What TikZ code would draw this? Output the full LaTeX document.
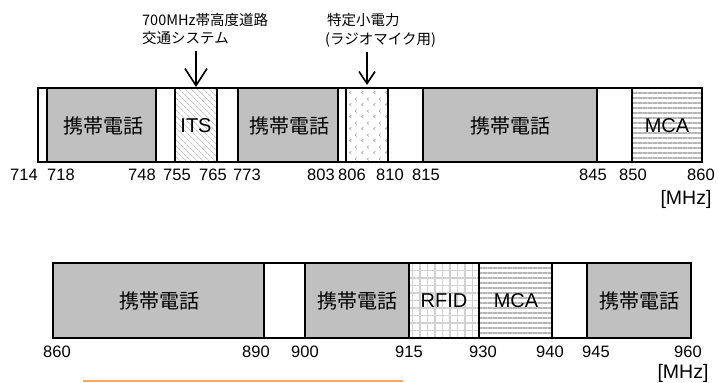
\documentclass[tikz,border=0pt]{standalone}
\usepackage{fontspec}
\setmainfont{Liberation Sans}
\newfontfamily\jp{Noto Sans CJK JP}
\usetikzlibrary{patterns.meta,arrows.meta}
\definecolor{mobgray}{HTML}{C0C0C0}
\definecolor{patgray}{HTML}{A8A8A8}
\definecolor{linegray}{HTML}{B4B4B4}
\definecolor{orangeline}{HTML}{FFA860}
\pgfdeclarepattern{
  name=chevs,
  type=uncolored,
  bottom left={\pgfpoint{0pt}{0pt}},
  top right={\pgfpoint{12pt}{12pt}},
  tile size={\pgfpoint{12pt}{12pt}},
  code={
    \pgfsetlinewidth{0.6pt}
    \pgfpathmoveto{\pgfpoint{3.5pt}{4pt}}
    \pgfpathlineto{\pgfpoint{1.5pt}{2.5pt}}
    \pgfpathlineto{\pgfpoint{3.5pt}{1pt}}
    \pgfpathmoveto{\pgfpoint{9.5pt}{10pt}}
    \pgfpathlineto{\pgfpoint{7.5pt}{8.5pt}}
    \pgfpathlineto{\pgfpoint{9.5pt}{7pt}}
    \pgfusepath{stroke}
  }
}
\tikzset{
  band/.style={draw=black, line width=1.4pt},
  mob/.style={band, fill=mobgray},
  itsfill/.style={band, pattern={Lines[angle=-45,distance=4pt,line width=0.6pt]}, pattern color=patgray},
  mcafill/.style={band, pattern={Lines[angle=0,distance=5pt,line width=2.2pt]}, pattern color=linegray},
  rfidfill/.style={band, pattern={Hatch[angle=0,distance=7.5pt,line width=1.6pt]}, pattern color=black!18},
  micfill/.style={band, pattern=chevs, pattern color=patgray},
  lbl/.style={font=\fontsize{20}{22}\selectfont, inner sep=0pt},
  jlbl/.style={font=\jp\fontsize{20}{22}\selectfont, inner sep=0pt},
  num/.style={font=\fontsize{16.5}{18}\selectfont, inner sep=0pt},
  unit/.style={font=\fontsize{19.5}{21}\selectfont, inner sep=0pt},
  note/.style={font=\jp\fontsize{14.5}{16}\selectfont, inner sep=0pt, anchor=west},
  arr/.style={line width=1.6pt},
}
\begin{document}
\begin{tikzpicture}[x=1pt,y=-1pt]
\useasboundingbox[fill=white] (0,0) rectangle (718,383);
% ---------- top band ----------
\draw[band] (38,88) rectangle (47,162);
\draw[mob] (47,88) rectangle (156,162);
\draw[band] (156,88) rectangle (175,162);
\draw[itsfill] (175,88) rectangle (217,162);
\draw[band] (217,88) rectangle (238,162);
\draw[mob] (238,88) rectangle (338,162);
\draw[band] (338,88) rectangle (346,162);
\draw[micfill] (346,88) rectangle (388,162);
\draw[band] (388,88) rectangle (423,162);
\draw[mob] (423,88) rectangle (597,162);
\draw[band] (597,88) rectangle (632,162);
\draw[mcafill] (632,88) rectangle (702,162);
\draw[band] (38,88) rectangle (702,162);

\node[jlbl] (t1) at (103,126) {携帯電話};
\node[lbl] (t2) at (196,126) {ITS};
\node[jlbl] (t3) at (289,126) {携帯電話};
\node[jlbl] (t4) at (510,126) {携帯電話};
\node[lbl] (t5) at (667,126) {MCA};

\node[num] (n714) at (24,175) {714};
\node[num] (n718) at (61,175) {718};
\node[num] (n748) at (142,175) {748};
\node[num] (n755) at (177,175) {755};
\node[num] (n765) at (213,175) {765};
\node[num] (n773) at (247,175) {773};
\node[num] (n803) at (321,175) {803};
\node[num] (n806) at (352,175) {806};
\node[num] (n810) at (390,175) {810};
\node[num] (n815) at (426,175) {815};
\node[num] (n845) at (593,175) {845};
\node[num] (n850) at (633,175) {850};
\node[num] (n860a) at (701,175) {860};
\node[unit] (u1) at (686,199) {[MHz]};

% annotations
\node[note] (a1a) at (142,20) {700MHz帯高度道路};
\node[note] (a1b) at (142,38) {交通システム};
\coordinate (p1s) at (196,51);
\coordinate (p1e) at (196,87);
\draw[arr, -{Straight Barb[length=17pt,width=22pt,line width=1.6pt]}] (p1s) -- (p1e);

\node[note] (a2a) at (327,20) {特定小電力};
\node[note] (a2b) at (325,40) {(ラジオマイク用)};
\coordinate (p2s) at (367,52);
\coordinate (p2e) at (367,85);
\draw[arr, -{Straight Barb[length=12pt,width=16pt,line width=1.6pt]}] (p2s) -- (p2e);

% ---------- bottom band ----------
\draw[mob] (53,263) rectangle (264,338);
\draw[band] (264,263) rectangle (305,338);
\draw[mob] (305,263) rectangle (409,338);
\draw[rfidfill] (409,263) rectangle (479,338);
\draw[mcafill] (479,263) rectangle (552,338);
\draw[band] (552,263) rectangle (587,338);
\draw[mob] (587,263) rectangle (691,338);
\draw[band] (53,263) rectangle (691,338);

\node[jlbl] (b1) at (159,301) {携帯電話};
\node[jlbl] (b2) at (357,301) {携帯電話};
\node[lbl] (b3) at (444,301) {RFID};
\node[lbl] (b4) at (516,301) {MCA};
\node[jlbl] (b5) at (639,301) {携帯電話};

\node[num] (m860) at (57,352) {860};
\node[num] (m890) at (256,352) {890};
\node[num] (m900) at (305,352) {900};
\node[num] (m915) at (409,352) {915};
\node[num] (m930) at (483,352) {930};
\node[num] (m940) at (550,352) {940};
\node[num] (m945) at (596,352) {945};
\node[num] (m960) at (688,352) {960};
\node[unit] (u2) at (683,373) {[MHz]};

\coordinate (o1) at (83,381.2);
\coordinate (o2) at (403,381.2);
\draw[orangeline, line width=1.6pt] (o1) -- (o2);
\end{tikzpicture}
\end{document}
